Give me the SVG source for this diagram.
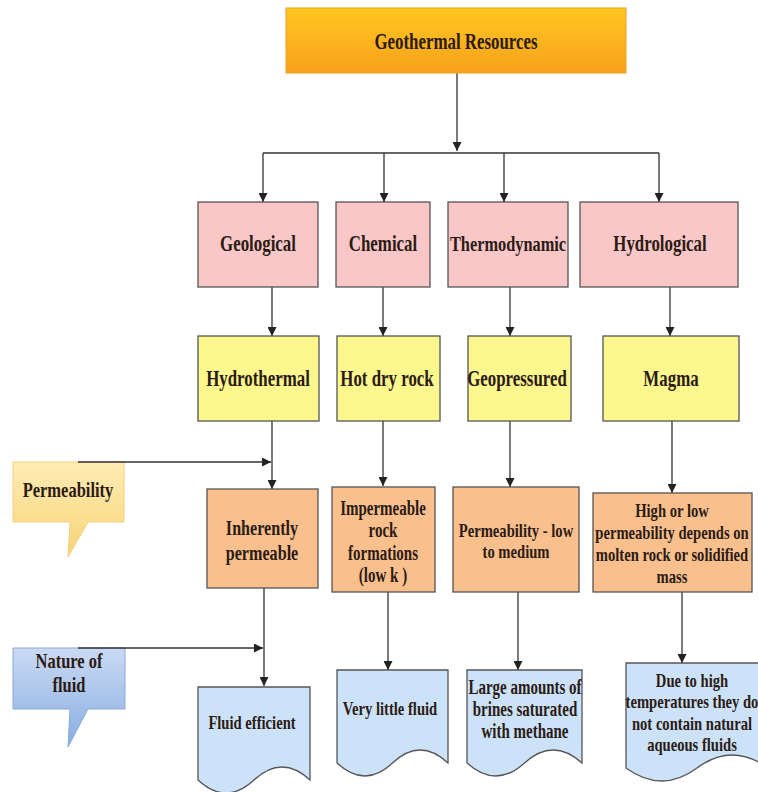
<svg xmlns="http://www.w3.org/2000/svg" width="758" height="792" viewBox="0 0 758 792">
<defs>
<linearGradient id="gTop" x1="0" y1="0" x2="0" y2="1">
<stop offset="0" stop-color="#FFC721"/><stop offset="1" stop-color="#F7A11C"/>
</linearGradient>
<linearGradient id="gPerm" x1="0" y1="0" x2="0" y2="1">
<stop offset="0" stop-color="#FFEDB5"/><stop offset="1" stop-color="#F7D377"/>
</linearGradient>
<linearGradient id="gFluid" x1="0" y1="0" x2="0" y2="1">
<stop offset="0" stop-color="#CADAF3"/><stop offset="1" stop-color="#88ADE2"/>
</linearGradient>
<marker id="ah" viewBox="0 0 10 10" refX="10" refY="5" markerWidth="9" markerHeight="9" markerUnits="userSpaceOnUse" orient="auto">
<path d="M0,0 L10,5 L0,10 z" fill="#222"/>
</marker>
<style>
.t{font-family:"Liberation Serif","Times New Roman",serif;font-weight:bold;fill:#2b1b14;text-anchor:middle}
.c{stroke:#333;stroke-width:1.3;fill:none}
.ca{stroke:#333;stroke-width:1.3;fill:none;marker-end:url(#ah)}
.pink{fill:#F9C7C7;stroke:#555;stroke-width:1.3}
.yel{fill:#FDF88E;stroke:#555;stroke-width:1.3}
.org{fill:#F9C08D;stroke:#555;stroke-width:1.3}
.blu{fill:#CCE2F8;stroke:#555;stroke-width:1.3}
</style>
</defs>
<rect width="758" height="792" fill="#ffffff"/>

<g id="connectors">
<path class="ca" d="M457,73 V151"/>
<path class="c" d="M263,153 H659"/>
<path class="ca" d="M263,153 V202"/>
<path class="ca" d="M384,153 V202"/>
<path class="ca" d="M504,153 V202"/>
<path class="ca" d="M659,153 V202"/>
<path class="ca" d="M272,287 V336"/>
<path class="ca" d="M383,287 V336"/>
<path class="ca" d="M510,287 V336"/>
<path class="ca" d="M670,287 V336"/>
<path class="ca" d="M272,421 V489"/>
<path class="ca" d="M383,421 V486"/>
<path class="ca" d="M510,421 V487"/>
<path class="ca" d="M672,421 V493"/>
<path class="ca" d="M264,588 V686"/>
<path class="ca" d="M388,592 V670"/>
<path class="ca" d="M518,592 V670"/>
<path class="ca" d="M682,592 V663"/>
</g>

<g id="top">
<rect x="286" y="8" width="340" height="65" fill="url(#gTop)" stroke="#F0A020" stroke-width="1"/>
<text class="t" font-size="22.5" transform="translate(456,49) scale(0.75 1)">Geothermal Resources</text>
</g>

<g id="geological"><rect class="pink" x="198" y="202" width="120" height="85"/>
<text class="t" font-size="22.5" transform="translate(258,251) scale(0.75 1)">Geological</text></g>
<g id="chemical"><rect class="pink" x="336" y="202" width="94" height="85"/>
<text class="t" font-size="22.5" transform="translate(383,251) scale(0.75 1)">Chemical</text></g>
<g id="thermodynamic"><rect class="pink" x="448" y="202" width="120" height="85"/>
<text class="t" font-size="21.8" transform="translate(508,251) scale(0.75 1)">Thermodynamic</text></g>
<g id="hydrological"><rect class="pink" x="580" y="202" width="158" height="85"/>
<text class="t" font-size="22.5" transform="translate(660,251) scale(0.75 1)">Hydrological</text></g>

<g id="hydrothermal"><rect class="yel" x="198" y="336" width="121" height="85"/>
<text class="t" font-size="22.5" transform="translate(258,386) scale(0.75 1)">Hydrothermal</text></g>
<g id="hotdryrock"><rect class="yel" x="337" y="336" width="103" height="85"/>
<text class="t" font-size="22.5" transform="translate(387,386) scale(0.75 1)">Hot dry rock</text></g>
<g id="geopressured"><rect class="yel" x="468" y="336" width="103" height="85"/>
<text class="t" font-size="22.5" transform="translate(517,386) scale(0.75 1)">Geopressured</text></g>
<g id="magma"><rect class="yel" x="603" y="336" width="136" height="85"/>
<text class="t" font-size="22.5" transform="translate(671,386) scale(0.75 1)">Magma</text></g>

<g id="permeability">
<path d="M13,462 H124 V522 H88 L68,557 L70,522 H13 Z" fill="url(#gPerm)" stroke="#F3D07A" stroke-width="1"/>
<text class="t" font-size="22" transform="translate(68,497) scale(0.75 1)">Permeability</text>
<path class="ca" d="M78,462 H271" stroke-width="1.5"/>
</g>

<g id="inherently"><rect class="org" x="207" y="489" width="111" height="99"/>
<text class="t" font-size="21.5" transform="translate(262,535) scale(0.75 1)"><tspan x="0">Inherently</tspan><tspan x="0" dy="25">permeable</tspan></text></g>
<g id="impermeable"><rect class="org" x="332" y="487" width="103" height="105"/>
<text class="t" font-size="20" transform="translate(383,515) scale(0.75 1)"><tspan x="0">Impermeable</tspan><tspan x="0" dy="22.5">rock</tspan><tspan x="0" dy="22.5">formations</tspan><tspan x="0" dy="22.5">(low k )</tspan></text></g>
<g id="permlow"><rect class="org" x="453" y="487" width="126" height="105"/>
<text class="t" font-size="19.5" transform="translate(516,537) scale(0.75 1)"><tspan x="0">Permeability - low</tspan><tspan x="0" dy="21.5">to medium</tspan></text></g>
<g id="highlow"><rect class="org" x="593" y="493" width="159" height="99"/>
<text class="t" font-size="19.5" transform="translate(672,517) scale(0.75 1)"><tspan x="0">High or low</tspan><tspan x="0" dy="22">permeability depends on</tspan><tspan x="0" dy="22">molten rock or solidified</tspan><tspan x="0" dy="22">mass</tspan></text></g>

<g id="nature">
<path d="M13,648 H125 V709 H88 L68,747 L70,709 H13 Z" fill="url(#gFluid)" stroke="#8AAAD8" stroke-width="1"/>
<text class="t" font-size="22" transform="translate(69,668) scale(0.75 1)"><tspan x="0">Nature of</tspan><tspan x="0" dy="24">fluid</tspan></text>
<path class="ca" d="M78,648 H263" stroke-width="1.5"/>
</g>

<g id="fluidefficient">
<path class="blu" d="M198,687 H310 V780 Q282,754 254,780 Q226,806 198,780 Z"/>
<text class="t" font-size="19.5" transform="translate(252,729) scale(0.75 1)">Fluid efficient</text></g>
<g id="verylittle">
<path class="blu" d="M337,670 H448 V763 Q420,737 392.5,763 Q365,789 337,763 Z"/>
<text class="t" font-size="19.5" transform="translate(390,715) scale(0.75 1)">Very little fluid</text></g>
<g id="largeamounts">
<path class="blu" d="M467,670 H582 V763 Q553,737 524.5,763 Q496,789 467,763 Z"/>
<text class="t" font-size="20" transform="translate(525,694) scale(0.75 1)"><tspan x="0">Large amounts of</tspan><tspan x="0" dy="22">brines saturated</tspan><tspan x="0" dy="22">with methane</tspan></text></g>
<g id="duetohigh">
<path class="blu" d="M626,663 H768 V768 Q732,742 697,768 Q662,794 626,768 Z"/>
<text class="t" font-size="19.5" transform="translate(692,687) scale(0.75 1)"><tspan x="0">Due to high</tspan><tspan x="0" dy="21.5">temperatures they do</tspan><tspan x="0" dy="21.5">not contain natural</tspan><tspan x="0" dy="21.5">aqueous fluids</tspan></text></g>
</svg>
